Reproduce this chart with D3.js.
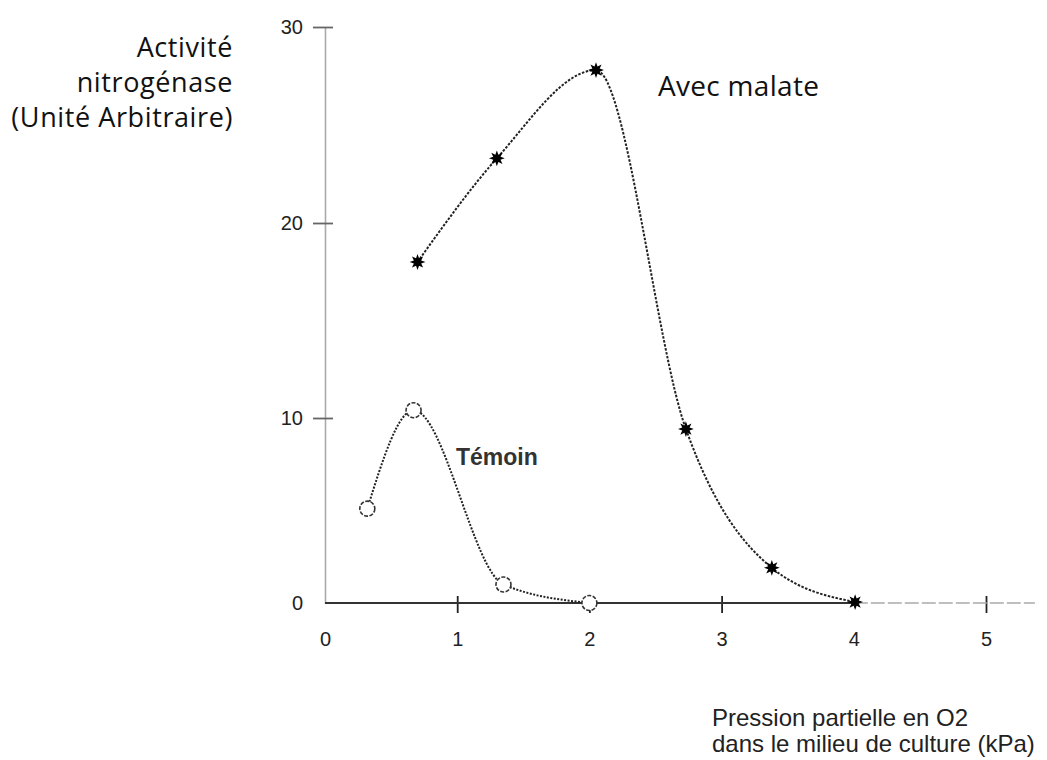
<!DOCTYPE html>
<html>
<head>
<meta charset="utf-8">
<script src="https://cdn.jsdelivr.net/npm/d3@7"></script>
<style>
  body { margin: 0; background: #fff; }
  .tick text { font-family: "Liberation Sans", Arial, sans-serif; font-size: 20px; fill: #222; }
</style>
</head>
<body>
<script>
// values
const malateX = [0.70, 1.30, 2.05, 2.73, 3.38, 4.01];
const malateY = [18.0, 23.3, 27.8, 9.4, 1.9, 0.05];
const temoinX = [0.32, 0.67, 1.35, 2.00];
const temoinY = [5.1, 10.4, 1.0, 0.0];
const xTicks = [0, 1, 2, 3, 4, 5];
const yTicks = [0, 10, 20, 30];

const svg = d3.select("body").append("svg")
    .attr("width", 1047)
    .attr("height", 760);

// the scan is not perfectly linear, so the y scale follows its tick marks
const xScale = d3.scaleLinear().domain([0, 5]).range([325, 986]),
      yScale = d3.scaleLinear().domain(yTicks).range([603, 418, 223, 27]);

// y axis
const gy = svg.append("g")
    .attr("transform", "translate(" + xScale(0) + ",0)")
    .call(d3.axisLeft(yScale).tickValues(yTicks).tickFormat(d3.format("d"))
        .tickSizeInner(12).tickSizeOuter(0).tickPadding(10));
gy.select(".domain").attr("stroke", "#aaa").attr("stroke-width", 1.6);
gy.selectAll(".tick line")
    .attr("x2", -12).attr("x1", 8)
    .attr("stroke", "#666").attr("stroke-width", 1.8)
    .filter(function(d) { return d === 0; }).remove();

// x axis
const gx = svg.append("g")
    .attr("transform", "translate(0," + yScale(0) + ")")
    .call(d3.axisBottom(xScale).tickValues(xTicks).tickFormat(d3.format("d"))
        .tickSizeInner(10).tickSizeOuter(0).tickPadding(19));
gx.select(".domain").remove();
gx.selectAll(".tick line")
    .attr("y1", -7)
    .attr("stroke", "#222").attr("stroke-width", 1.8)
    .filter(function(d) { return d === 0 || d === 4; }).remove();

gx.append("line")
    .attr("x1", xScale(0)).attr("x2", xScale(4))
    .attr("stroke", "#333").attr("stroke-width", 1.8);
gx.append("line")
    .attr("x1", xScale(4)).attr("x2", xScale(5.37))
    .attr("stroke", "#aaa").attr("stroke-width", 1.5)
    .attr("stroke-dasharray", "14,3");

// curves
const line = d3.line()
    .x(function(d) { return xScale(d[0]); })
    .y(function(d) { return yScale(d[1]); })
    .curve(d3.curveMonotoneX);

const malate = d3.zip(malateX, malateY),
      temoin = d3.zip(temoinX, temoinY);

svg.append("path")
    .datum(malate)
    .attr("d", line)
    .attr("fill", "none")
    .attr("stroke", "#222")
    .attr("stroke-width", 2)
    .attr("stroke-dasharray", "2.5,1.5");

svg.append("path")
    .datum(temoin)
    .attr("d", line)
    .attr("fill", "none")
    .attr("stroke", "#222")
    .attr("stroke-width", 2)
    .attr("stroke-dasharray", "2,1.5");

// 8 point star marker
const star8 = {
    draw: function(ctx, size) {
        const r = Math.sqrt(size / Math.PI) * 1.4, ri = r * 0.5;
        for (let i = 0; i < 16; i++) {
            const a = i * Math.PI / 8 - Math.PI / 2, rr = i % 2 ? ri : r;
            if (i === 0) ctx.moveTo(rr * Math.cos(a), rr * Math.sin(a));
            else ctx.lineTo(rr * Math.cos(a), rr * Math.sin(a));
        }
        ctx.closePath();
    }
};

svg.selectAll(".star")
    .data(malate)
    .enter().append("path")
    .attr("class", "star")
    .attr("transform", function(d) { return "translate(" + xScale(d[0]) + "," + yScale(d[1]) + ")"; })
    .attr("d", d3.symbol().type(star8).size(100))
    .attr("fill", "#000");

svg.selectAll(".circ")
    .data(temoin)
    .enter().append("circle")
    .attr("class", "circ")
    .attr("cx", function(d) { return xScale(d[0]); })
    .attr("cy", function(d) { return yScale(d[1]); })
    .attr("r", 7.5)
    .attr("fill", "#fff")
    .attr("stroke", "#333")
    .attr("stroke-width", 1.6)
    .attr("stroke-dasharray", "4,1.5");

// texts
const yTitle = ["Activité", "nitrogénase", "(Unité Arbitraire)"];
svg.append("text")
    .attr("text-anchor", "end")
    .attr("font-family", "'Open Sans', sans-serif")
    .attr("font-size", "27px")
    .attr("letter-spacing", "0.6px")
    .attr("fill", "#111")
    .selectAll("tspan")
    .data(yTitle)
    .enter().append("tspan")
    .attr("x", 233)
    .attr("y", function(d, i) { return 57 + i * 35; })
    .text(function(d) { return d; });

svg.append("text")
    .attr("x", 658).attr("y", 96)
    .attr("font-family", "'Open Sans', sans-serif")
    .attr("font-size", "28px")
    .attr("letter-spacing", "0.3px")
    .attr("fill", "#111")
    .text("Avec malate");

svg.append("text")
    .attr("x", 456).attr("y", 465)
    .attr("font-family", "'Liberation Sans', Arial, sans-serif")
    .attr("font-size", "23px")
    .attr("font-weight", "bold")
    .attr("fill", "#333")
    .text("Témoin");

const xTitle = ["Pression partielle en O2", "dans le milieu de culture (kPa)"];
svg.append("text")
    .attr("font-family", "'Liberation Sans', Arial, sans-serif")
    .attr("font-size", "24px")
    .attr("fill", "#222")
    .selectAll("tspan")
    .data(xTitle)
    .enter().append("tspan")
    .attr("x", 712)
    .attr("y", function(d, i) { return 726 + i * 26; })
    .text(function(d) { return d; });
</script>
</body>
</html>
